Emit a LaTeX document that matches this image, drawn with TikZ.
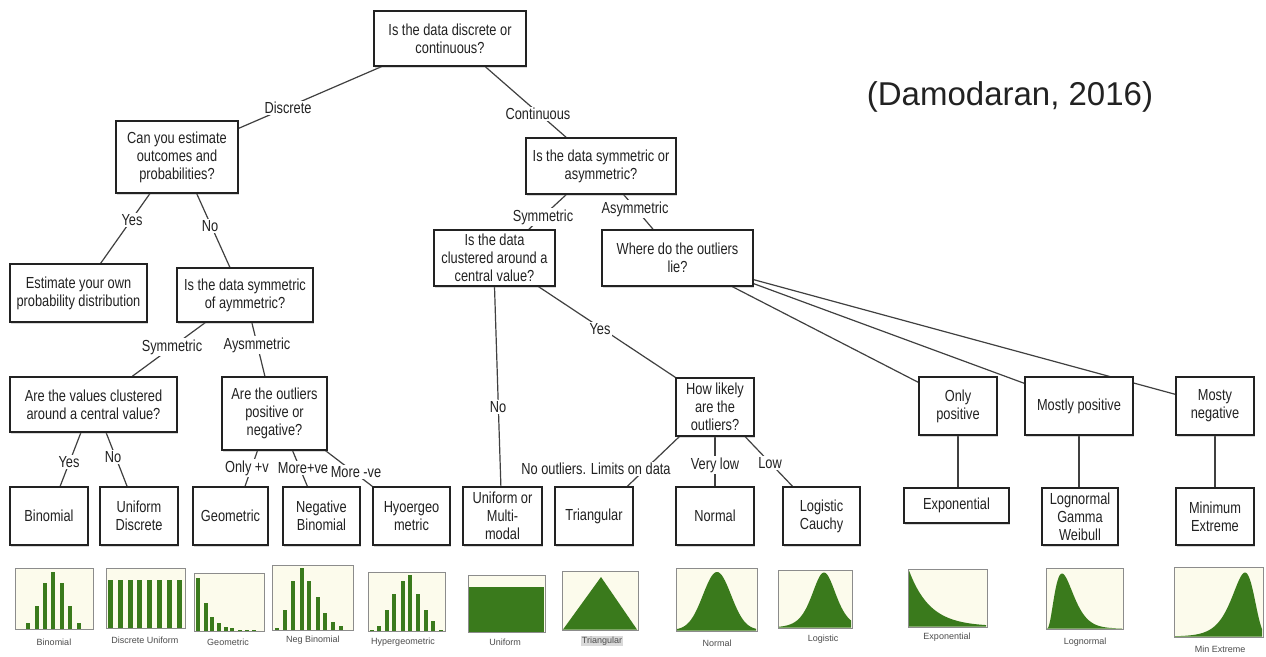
\documentclass[tikz,border=0pt]{standalone}
\usepackage{fontspec}
\setmainfont{Liberation Sans}
\newfontfamily\nar[FakeStretch=0.8]{Liberation Sans}
\usetikzlibrary{calc,shadows}
\definecolor{cream}{HTML}{FCFBEC}
\definecolor{dgreen}{HTML}{3A7A1C}
\definecolor{ink}{HTML}{222222}
\pgfdeclarelayer{bg}
\pgfsetlayers{bg,main}
\tikzset{
  box/.style={draw=ink, line width=1.3pt, fill=white, align=center, text=ink, inner sep=1pt,
    font=\nar\fontsize{16}{18}\selectfont,
    drop shadow={shadow xshift=0.6pt,shadow yshift=-1.8pt,opacity=0.3}},
  bx/.style 2 args={box, minimum width=#1pt, minimum height=#2pt},
  lbl/.style={fill=white, inner sep=1.5pt, text=ink, font=\nar\fontsize{16}{18}\selectfont},
  edge/.style={draw=black!75, line width=1.2pt},
  chartframe/.style={draw=black!45, line width=0.9pt, fill=cream},
  chartcap/.style={text=black!70, font=\fontsize{9}{10}\selectfont, inner sep=1pt},
}
\begin{document}
\begin{tikzpicture}[x=1pt,y=-1pt]
\useasboundingbox (0,0) rectangle (1266,656);
\begin{pgfonlayer}{bg}
\fill[white] (0,0) rectangle (1266,656);
\end{pgfonlayer}

% ---------- boxes ----------
\node[bx={152}{55}] (root) at (450,38.5) {Is the data discrete or\\continuous?};
\node[bx={122}{72}] (canyou) at (177,157) {Can you estimate\\outcomes and\\probabilities?};
\node[bx={150}{56}] (symasym) at (601,166) {Is the data symmetric or\\asymmetric?};
\node[bx={137}{58}] (estown) at (78.5,293) {Estimate your own\\probability distribution};
\node[bx={136}{54}] (symaym) at (245,295) {Is the data symmetric\\of aymmetric?};
\node[bx={167}{55}] (clusterD) at (93.5,404.5) {Are the values clustered\\around a central value?};
\node[bx={105}{73}] (outliersD) at (274.5,413.5) {Are the outliers\\positive or\\negative?};
\node[bx={121}{56}] (clusterC) at (494.5,258) {Is the data\\clustered around a\\central value?};
\node[bx={151}{56}] (where) at (677.5,258) {Where do the outliers\\lie?};
\node[bx={78}{58}] (howlikely) at (715,407) {How likely\\are the\\outliers?};
\node[bx={78}{58}] (onlypos) at (958,406) {Only\\positive};
\node[bx={108}{58}] (mostpos) at (1079,406) {Mostly positive};
\node[bx={78}{58}] (mostneg) at (1215,406) {Mosty\\negative};

\node[bx={78}{58}] (binomial) at (49,516) {Binomial};
\node[bx={78}{58}] (unifdisc) at (139,516) {Uniform\\Discrete};
\node[bx={75}{58}] (geometric) at (230.5,516) {Geometric};
\node[bx={77}{58}] (negbin) at (321.5,516) {Negative\\Binomial};
\node[bx={77}{58}] (hyper) at (411.5,516) {Hyoergeo\\metric};
\node[bx={79}{58}] (unifmulti) at (502.5,516) {Uniform or\\Multi-\\modal};
\node[bx={78}{58}] (triangular) at (594,516) {Triangular};
\node[bx={78}{58}] (normal) at (715,516) {Normal};
\node[bx={77}{58}] (logistic) at (821.5,516) {Logistic\\Cauchy};
\node[bx={105}{35}] (exponential) at (956.5,505.5) {Exponential};
\node[bx={76}{57}] (lognormal) at (1080,516.5) {Lognormal\\Gamma\\Weibull};
\node[bx={78}{57}] (minext) at (1215,516.5) {Minimum\\Extreme};

% ---------- connectors ----------
\begin{pgfonlayer}{bg}
\draw[edge] ($(root.south west)!0.053!(root.south east)$) -- ($(canyou.north east)+(0,8)$);
\draw[edge] ($(root.south west)!0.73!(root.south east)$) -- ($(symasym.north west)!0.27!(symasym.north east)$);
\draw[edge] ($(canyou.south west)!0.28!(canyou.south east)$) -- ($(estown.north west)!0.66!(estown.north east)$);
\draw[edge] ($(canyou.south west)!0.66!(canyou.south east)$) -- ($(symaym.north west)!0.39!(symaym.north east)$);
\draw[edge] ($(symaym.south west)!0.21!(symaym.south east)$) -- ($(clusterD.north west)!0.73!(clusterD.north east)$);
\draw[edge] ($(symaym.south west)!0.55!(symaym.south east)$) -- ($(outliersD.north west)!0.41!(outliersD.north east)$);
\draw[edge] ($(clusterD.south west)!0.425!(clusterD.south east)$) -- ($(binomial.north west)!0.64!(binomial.north east)$);
\draw[edge] ($(clusterD.south west)!0.575!(clusterD.south east)$) -- ($(unifdisc.north west)!0.35!(unifdisc.north east)$);
\draw[edge] ($(outliersD.south west)!0.34!(outliersD.south east)$) -- ($(geometric.north west)!0.69!(geometric.north east)$);
\draw[edge] ($(outliersD.south west)!0.67!(outliersD.south east)$) -- ($(negbin.north west)!0.32!(negbin.north east)$);
\draw[edge] ($(outliersD.south west)!0.98!(outliersD.south east)$) -- (hyper.north west);
\draw[edge] ($(symasym.south west)!0.27!(symasym.south east)$) -- ($(clusterC.north west)!0.78!(clusterC.north east)$);
\draw[edge] ($(symasym.south west)!0.65!(symasym.south east)$) -- ($(where.north west)!0.34!(where.north east)$);
\draw[edge] (clusterC.south) -- ($(unifmulti.north west)!0.48!(unifmulti.north east)$);
\draw[edge] ($(clusterC.south west)!0.86!(clusterC.south east)$) -- (howlikely.north west);
\draw[edge] ($(howlikely.south west)!0.05!(howlikely.south east)$) -- ($(triangular.north west)!0.92!(triangular.north east)$);
\draw[edge] (howlikely.south) -- (normal.north);
\draw[edge] ($(howlikely.south west)!0.88!(howlikely.south east)$) -- ($(logistic.north west)!0.13!(logistic.north east)$);
\draw[edge] ($(where.south west)!0.86!(where.south east)$) -- ($(onlypos.north west)+(0,6)$);
\draw[edge] ($(where.south east)+(0,-3)$) -- ($(mostpos.north west)+(0,7)$);
\draw[edge] ($(where.south east)+(0,-7)$) -- ($(mostneg.north west)+(0,18)$);
\draw[edge] (onlypos.south) -- (onlypos.south |- exponential.north);
\draw[edge] (mostpos.south) -- (mostpos.south |- lognormal.north);
\draw[edge] (mostneg.south) -- (mostneg.south |- minext.north);
\end{pgfonlayer}

% ---------- connector labels ----------
\node[lbl] (lDiscrete) at (288,108) {Discrete};
\node[lbl] (lContinuous) at (538,114) {Continuous};
\node[lbl] (lYes1) at (132,220) {Yes};
\node[lbl] (lNo1) at (210,226) {No};
\node[lbl] (lSym1) at (172,347) {Symmetric};
\node[lbl] (lAsym1) at (257,345) {Aysmmetric};
\node[lbl] (lYes2) at (69,462) {Yes};
\node[lbl] (lNo2) at (113,457) {No};
\node[lbl] (lOnly) at (247,468) {Only +v};
\node[lbl] (lMorePos) at (303,468) {More+ve};
\node[lbl] (lMoreNeg) at (356,472) {More -ve};
\node[lbl] (lSym2) at (543,217) {Symmetric};
\node[lbl] (lAsym2) at (635,209) {Asymmetric};
\node[lbl] (lYes3) at (600,329) {Yes};
\node[lbl] (lNo3) at (498,407) {No};
\node[lbl] (lNoOut) at (596,469) {No outliers. Limits on data};
\node[lbl] (lVeryLow) at (715,465) {Very low};
\node[lbl] (lLow) at (770,463) {Low};

% ---------- title ----------
\node[text=ink, font=\fontsize{33}{36}\selectfont] (title) at (1010,97) {(Damodaran, 2016)};

% ---------- charts ----------
% Binomial
\draw[chartframe] (15,568) rectangle (93,629);
\foreach \x/\h in {28/6.5,37/22.8,45/45.6,53/57,62/45.6,70/22.8,79/6.5}
  \fill[dgreen] (\x-2,629) rectangle (\x+2,629-\h);
\node[chartcap] (cBinomial) at (54,642) {Binomial};
% Discrete uniform
\draw[chartframe] (106,568) rectangle (185,628);
\foreach \i in {0,...,7}
  \fill[dgreen] (108+\i*9.8,628) rectangle (113+\i*9.8,580);
\node[chartcap] (cDiscUnif) at (145,640) {Discrete Uniform};
% Geometric
\draw[chartframe] (194,573) rectangle (264,631);
\foreach \x/\h in {198/53,206/28,212/14,219/8,226/4,232/3,240/1.5,247/1,254/0.6}
  \fill[dgreen] (\x-1.6,631) rectangle (\x+1.6,631-\h);
\node[chartcap] (cGeometric) at (228,642) {Geometric};
% Neg binomial
\draw[chartframe] (272,565) rectangle (353,630);
\foreach \x/\h in {277/2,285/20,293/49,302/62,309/49,318/33,325/17,333/8,341/4}
  \fill[dgreen] (\x-1.8,630) rectangle (\x+1.8,630-\h);
\node[chartcap] (cNegBin) at (313,640) {Neg Binomial};
% Hypergeometric
\draw[chartframe] (368,572) rectangle (445,631);
\foreach \x/\h in {372/1,379/5,387/21,394/37,403/50,410/56,418/37,426/21,433/10,441/1}
  \fill[dgreen] (\x-1.8,631) rectangle (\x+1.8,631-\h);
\node[chartcap] (cHyper) at (403,642) {Hypergeometric};
% Uniform
\draw[chartframe] (468,575) rectangle (545,632);
\fill[dgreen] (469,587) rectangle (544,631.5);
\node[chartcap] (cUniform) at (505,642) {Uniform};
% Triangular
\draw[chartframe] (562,571) rectangle (638,630);
\fill[dgreen] (563,629.5) -- (601,577) -- (637,629.5) -- cycle;
\node[chartcap, fill=black!15] (cTriangular) at (602,641) {Triangular};
% Normal
\draw[chartframe] (676,568) rectangle (757,631);
\fill[dgreen] (677,630.5) -- plot[domain=677:756,samples=70] (\x,{630-58*exp(-((\x-717)^2)/392)}) -- (756,630.5) -- cycle;
\node[chartcap] (cNormal) at (717,643) {Normal};
% Logistic
\draw[chartframe] (778,570) rectangle (852,628);
\fill[dgreen] (779,627.5) -- plot[domain=779:851,samples=70] (\x,{627.5-55*1/(cosh((\x-824)/16))^2}) -- (851,627.5) -- cycle;
\node[chartcap] (cLogistic) at (823,639) {Logistic};
% Exponential
\draw[chartframe] (908,569) rectangle (987,627);
\fill[dgreen] (909,626.5) -- plot[domain=909:986,samples=60] (\x,{626.5-56*exp(-(\x-909)/21)}) -- (986,626.5) -- cycle;
\node[chartcap] (cExpo) at (947,637) {Exponential};
% Lognormal
\draw[chartframe] (1046,568) rectangle (1123,629);
\fill[dgreen] (1047,628.5) -- plot[domain=1047.5:1122,samples=80] (\x,{628.5-55*((\x-1047)/15)^2.5*exp(-2.5*((\x-1047)/15-1))}) -- (1122,628.5) -- cycle;
\node[chartcap] (cLognormal) at (1085,642) {Lognormal};
% Min extreme
\draw[chartframe] (1174,567) rectangle (1263,637);
\fill[dgreen] (1175,636.5) -- plot[domain=1175:1262,samples=80] (\x,{636.5-64*exp((\x-1245)/11-exp((\x-1245)/11)+1)}) -- (1262,636.5) -- cycle;
\node[chartcap] (cMinExt) at (1220,649) {Min Extreme};
\end{tikzpicture}
\end{document}
